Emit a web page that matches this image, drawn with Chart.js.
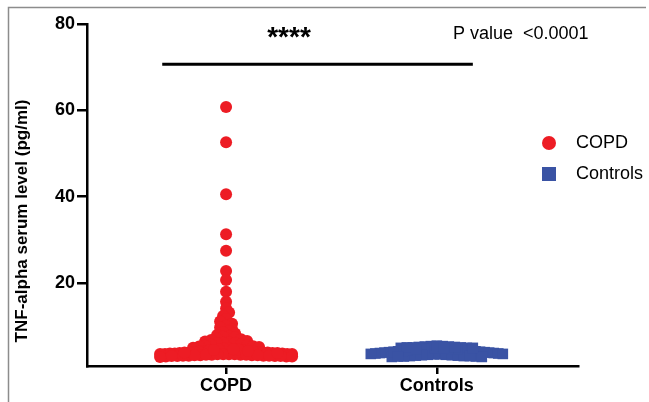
<!DOCTYPE html>
<html>
<head>
<meta charset="utf-8">
<script src="https://cdn.jsdelivr.net/npm/chart.js@4.4.1/dist/chart.umd.min.js"></script>
<style>
  html, body { margin: 0; padding: 0; background: #fff; }
  #wrap { width: 649px; height: 402px; position: relative; }
</style>
</head>
<body>
<div id="wrap"><canvas id="c" width="649" height="402"></canvas></div>
<script>
// ---- data ----
const categories = ["COPD", "Controls"];
const yTicks = [20, 40, 60, 80];
const copdValues = [
  60.8, 52.6, 40.6, 31.3, 27.5, 22.8, 20.7, 18.0, 15.7, 14.1, 13.2, 12.4,
  11.7, 11.1, 10.6, 10.1, 9.7, 9.3, 8.9, 8.6, 8.3, 8.0, 7.7, 7.6, 7.4, 7.1,
  7.0, 6.8, 6.6, 6.5, 6.3, 6.2, 6.1, 6.0, 5.8, 5.7, 5.6, 5.5, 5.4, 5.3,
  5.2, 5.0, 4.9, 4.8, 4.6, 4.4, 4.2,
  4.1, 4.0, 4.0, 3.9, 3.9, 3.8, 3.8, 3.7, 3.7, 3.6, 3.6, 3.5, 3.5, 3.4,
  3.4, 3.3, 3.3, 3.2, 3.2, 3.1, 3.1, 3.0, 3.0, 3.6, 3.9, 4.2, 3.5, 3.2,
  4.4, 3.3, 3.1, 3.8, 4.6, 3.4, 3.7, 3.5, 3.3, 3.6, 3.2, 3.9, 3.4, 3.1,
  4.5, 4.3, 2.9, 4.7, 3.0
];
const controlValues = [
  5.4, 5.3, 5.2, 5.1, 5.0, 4.9, 4.8, 4.7, 4.6, 4.5, 4.5, 4.4, 4.3, 4.2,
  4.1, 4.0, 4.0, 3.9, 3.9, 3.8, 3.8, 3.7, 3.7, 3.6, 3.6, 3.5, 3.5, 3.4,
  3.4, 3.3, 3.3, 3.2, 3.2, 3.1, 3.1, 3.0, 3.0, 2.9, 2.9, 5.3, 5.1, 4.9,
  4.7, 4.6, 4.8, 5.2, 5.0, 4.4, 4.3, 5.4, 5.5, 4.2, 3.1, 4.1, 5.1, 4.9,
  3.0, 4.6, 5.0
];

const RED = '#ED1C24';
const BLUE = '#3A53A4';

function initialPoints(values, cx) { return values.map(v => ({ x: cx, y: v })); }

// Prism-style binned scatter: points in the same horizontal band are spread side by side
function spread(values, cx, xScale, yScale, binPx, stepPx, maxHalfPx) {
  const pxPerUnit = xScale.getPixelForValue(2) - xScale.getPixelForValue(1);
  const base = yScale.bottom;
  const bins = {};
  values.forEach((v, i) => {
    const b = Math.floor((base - yScale.getPixelForValue(v)) / binPx);
    (bins[b] = bins[b] || []).push(i);
  });
  const offs = new Array(values.length).fill(0);
  Object.values(bins).forEach(idx => {
    idx.sort((a, b) => values[b] - values[a]);
    const n = idx.length;
    const s = n > 1 ? Math.min(stepPx, (2 * maxHalfPx) / (n - 1)) : 0;
    idx.forEach((i, k) => {
      const slot = k === 0 ? 0 : (k % 2 === 1 ? -1 : 1) * Math.ceil(k / 2);
      offs[i] = slot * s + (n % 2 === 0 ? s / 2 : 0);
    });
  });
  return values.map((v, i) => ({ x: cx + offs[i] / pxPerUnit, y: v }));
}

const overlay = {
  id: 'overlay',
  afterDraw(chart) {
    const ctx = chart.ctx;
    const xs = chart.scales.x, ys = chart.scales.y;
    ctx.save();
    // frame
    ctx.strokeStyle = '#8c8c8c';
    ctx.lineWidth = 1.5;
    ctx.beginPath();
    ctx.moveTo(8.5, 402); ctx.lineTo(8.5, 7.5); ctx.lineTo(646, 7.5);
    ctx.stroke();
    // significance bar
    ctx.strokeStyle = '#000';
    ctx.lineWidth = 3;
    ctx.beginPath();
    ctx.moveTo(xs.getPixelForValue(0.697), ys.getPixelForValue(70.7));
    ctx.lineTo(xs.getPixelForValue(2.171), ys.getPixelForValue(70.7));
    ctx.stroke();
    ctx.fillStyle = '#000';
    ctx.textBaseline = 'middle';
    ctx.textAlign = 'center';
    ctx.font = 'bold 28px "Liberation Sans", Arial, sans-serif';
    ctx.fillText('****', 289, 38);
    ctx.textAlign = 'left';
    ctx.font = '18px "Liberation Sans", Arial, sans-serif';
    ctx.fillText('P value  <0.0001', 453, 34);
    // legend
    ctx.font = '18px "Liberation Sans", Arial, sans-serif';
    ctx.fillStyle = RED;
    ctx.beginPath(); ctx.arc(549, 143, 7, 0, Math.PI * 2); ctx.fill();
    ctx.fillStyle = BLUE;
    ctx.fillRect(542, 167, 14, 14);
    ctx.fillStyle = '#000';
    ctx.fillText(categories[0], 576, 143);
    ctx.fillText(categories[1], 576, 174);
    // y title
    ctx.translate(22, 221);
    ctx.rotate(-Math.PI / 2);
    ctx.textAlign = 'center';
    ctx.font = 'bold 17px "Liberation Sans", Arial, sans-serif';
    ctx.fillText('TNF-alpha serum level (pg/ml)', 0, 0);
    ctx.restore();
  }
};

const chart = new Chart(document.getElementById('c'), {
  type: 'scatter',
  data: {
    datasets: [
      { label: categories[0], data: initialPoints(copdValues, 1), pointStyle: 'circle',
        pointRadius: 6, pointHoverRadius: 6, backgroundColor: RED, borderColor: RED, borderWidth: 0 },
      { label: categories[1], data: initialPoints(controlValues, 2), pointStyle: 'rect',
        pointRadius: 7.5, pointHoverRadius: 7.5, backgroundColor: BLUE, borderColor: BLUE, borderWidth: 0 }
    ]
  },
  options: {
    responsive: false,
    animation: false,
    events: [],
    layout: { padding: { left: 0, right: 71, top: 24, bottom: 0 } },
    plugins: { legend: { display: false }, tooltip: { enabled: false } },
    scales: {
      x: {
        type: 'linear', min: 0.34, max: 2.67,
        afterBuildTicks: s => { s.ticks = [{ value: 1 }, { value: 2 }]; },
        afterFit: s => { s.height = 36; },
        ticks: {
          callback: v => categories[v - 1],
          color: '#000', padding: 1,
          font: { family: '"Liberation Sans", Arial, sans-serif', size: 18, weight: 'bold' },
          maxRotation: 0, autoSkip: false
        },
        grid: { drawOnChartArea: false, drawTicks: true, tickLength: 8, color: '#000', lineWidth: 2.5 },
        border: { display: true, color: '#000', width: 2.5 }
      },
      y: {
        min: 0.8, max: 80,
        afterBuildTicks: s => { s.ticks = yTicks.map(v => ({ value: v })); },
        afterFit: s => { s.width = 87; },
        ticks: {
          color: '#000', padding: 2,
          font: { family: '"Liberation Sans", Arial, sans-serif', size: 18, weight: 'bold' }
        },
        grid: { drawOnChartArea: false, drawTicks: true, tickLength: 10, color: '#000', lineWidth: 2.5 },
        border: { display: true, color: '#000', width: 2.5 }
      }
    }
  },
  plugins: [overlay]
});

chart.data.datasets[0].data = spread(copdValues, 1, chart.scales.x, chart.scales.y, 6, 6, 66);
chart.data.datasets[1].data = spread(controlValues, 2, chart.scales.x, chart.scales.y, 6, 6, 66);
chart.update('none');
</script>
</body>
</html>
